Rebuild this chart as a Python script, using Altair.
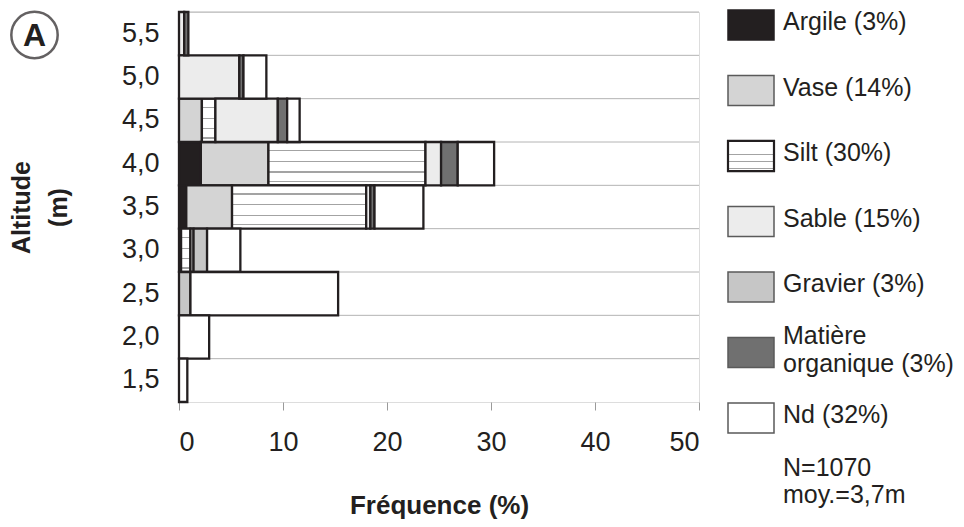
import altair as alt
import pandas as pd

# ---- data ----
altitudes = ["5,5", "5,0", "4,5", "4,0", "3,5", "3,0", "2,5", "2,0", "1,5"]
argile  = [0.0, 0.0, 0.0, 2.1, 0.7, 0.2, 0.0, 0.0, 0.0]
vase    = [0.0, 0.0, 2.2, 6.5, 4.4, 0.0, 0.0, 0.0, 0.0]
silt    = [0.0, 0.0, 1.3, 15.1, 12.9, 0.9, 0.0, 0.0, 0.0]
sable   = [0.5, 5.8, 6.0, 1.5, 0.4, 0.3, 0.0, 0.0, 0.0]
gravier = [0.0, 0.0, 0.0, 0.0, 0.0, 1.3, 1.1, 0.0, 0.0]
matiere = [0.4, 0.4, 0.9, 1.6, 0.4, 0.0, 0.0, 0.0, 0.0]
nd      = [0.0, 2.2, 1.2, 3.5, 4.7, 3.2, 14.2, 2.9, 0.8]

materials = ["Argile", "Vase", "Silt", "Sable", "Gravier", "Matière organique", "Nd"]
legend_labels = ["Argile (3%)", "Vase (14%)", "Silt (30%)", "Sable (15%)",
                 "Gravier (3%)", "Matière\norganique (3%)", "Nd (32%)"]
notes = "N=1070\nmoy.=3,7m"
x_ticks = [0, 10, 20, 30, 40, 50]

series = [argile, vase, silt, sable, gravier, matiere, nd]
rows = []
for i, alt_lbl in enumerate(altitudes):
    for k, m in enumerate(materials):
        v = series[k][i]
        if v > 0:
            rows.append({"altitude": alt_lbl, "material": m, "order": k, "value": v})
df = pd.DataFrame(rows)

INK = "#231f20"
FRAME = "#8a8e92"


def stripes(color="#a3a3a3"):
    stops = [alt.GradientStop(offset=0, color="white")]
    for c in [0.2, 0.45, 0.69, 0.91]:
        stops += [alt.GradientStop(offset=c - 0.015, color="white"),
                  alt.GradientStop(offset=c - 0.015, color=color),
                  alt.GradientStop(offset=c + 0.015, color=color),
                  alt.GradientStop(offset=c + 0.015, color="white")]
    stops.append(alt.GradientStop(offset=1, color="white"))
    return alt.Gradient(gradient="linear", stops=stops, x1=0, y1=0, x2=0, y2=1)


fills = {
    "Argile": INK,
    "Vase": "#d4d4d4",
    "Silt": stripes(),
    "Sable": "#ececec",
    "Gravier": "#c6c6c6",
    "Matière organique": "#707070",
    "Nd": "white",
}

y_scale = alt.Scale(paddingInner=0, paddingOuter=0)
y_enc = alt.Y(
    "altitude:N", sort=altitudes, scale=y_scale,
    axis=alt.Axis(title=["Altitude", "(m)"], titleFontSize=25, titleFontWeight="bold",
                  titleLineHeight=37, titlePadding=50, titleColor=INK,
                  labelFontSize=27, labelColor=INK, labelPadding=20,
                  ticks=False, domain=False, grid=False),
)
x_enc = alt.X(
    "x0:Q", scale=alt.Scale(domain=[0, 50], nice=False),
    axis=alt.Axis(values=x_ticks, title="Fréquence (%)", titleFontSize=26,
                  titleFontWeight="bold", titleColor=INK, titlePadding=37,
                  labelFontSize=27, labelColor=INK, labelPadding=19,
                  tickSize=8, tickColor="#9a9a9a", domain=False, grid=False),
)

# horizontal grid lines at the top edge of each altitude band
grid = alt.Chart(pd.DataFrame({"altitude": altitudes})).mark_rule(
    color="#b4b4b4", strokeWidth=1
).encode(y=alt.Y("altitude:N", sort=altitudes, scale=y_scale, bandPosition=0))

base = alt.Chart(df).transform_stack(
    stack="value", groupby=["altitude"], sort=[alt.SortField("order")], as_=["x0", "x1"]
)

layers = []
for m in materials:
    layers.append(
        base.transform_filter(alt.datum.material == m)
        .mark_bar(fill=fills[m], stroke=INK, strokeWidth=2.3)
        .encode(x=x_enc, x2="x1:Q", y=y_enc)
    )

badge_df = pd.DataFrame({"t": ["A"]})
badge_circle = alt.Chart(badge_df).mark_point(
    shape="circle", size=2150, filled=False, stroke=INK, strokeWidth=2.5
).encode(x=alt.value(-144.5), y=alt.value(23))
badge_text = alt.Chart(badge_df).mark_text(
    fontSize=32, fontWeight="bold", color=INK, baseline="middle", align="center", dy=1
).encode(x=alt.value(-144.5), y=alt.value(23), text="t:N")

main = alt.layer(grid, *layers, badge_circle, badge_text).properties(width=520, height=390)

# ---- legend ----
leg_df = pd.DataFrame({"material": materials, "label": legend_labels, "row": list(range(len(materials)))})
ly = alt.Scale(domain=[0, 6], range=[13, 406])
leg_base = alt.Chart(leg_df).transform_calculate(
    y0="datum.row - 0.23", y1="datum.row + 0.23"
)
leg_layers = []
for m in materials:
    leg_layers.append(
        leg_base.transform_filter(alt.datum.material == m)
        .mark_rect(fill=fills[m], stroke=(INK if m in ("Argile", "Silt") else "#5a5a5a"),
                   strokeWidth=(2.2 if m == "Silt" else 1.5))
        .encode(x=alt.value(0), x2=alt.value(46),
                y=alt.Y("y0:Q", scale=ly, axis=None), y2="y1:Q")
    )
multi = alt.expr.indexof(alt.datum.label, "\n") >= 0
leg_text1 = leg_base.transform_filter(~multi).mark_text(
    align="left", baseline="middle", fontSize=25, color=INK, dy=-3
).encode(x=alt.value(55), y=alt.Y("row:Q", scale=ly, axis=None), text="label:N")
leg_text2 = leg_base.transform_filter(multi).mark_text(
    align="left", baseline="middle", fontSize=25, lineHeight=28, lineBreak="\n",
    color=INK, dy=-17
).encode(x=alt.value(55), y=alt.Y("row:Q", scale=ly, axis=None), text="label:N")

note_df = pd.DataFrame({"t": [notes]})
note_text = alt.Chart(note_df).mark_text(
    align="left", baseline="middle", fontSize=25, lineHeight=27, lineBreak="\n", color=INK
).encode(x=alt.value(55), y=alt.value(456), text="t:N")

legend = alt.layer(*leg_layers, leg_text1, leg_text2, note_text).properties(
    width=170, height=390, view=alt.ViewBackground(stroke="transparent", strokeWidth=0)
)

chart = alt.hconcat(main, legend, spacing=29, bounds="flush").properties(
    padding={"left": -3, "top": -2, "right": 0, "bottom": 0}
).configure_view(
    stroke=FRAME, strokeWidth=2.5
).configure(
    font="Liberation Sans"
)

chart.save("out.html", embed_options={"renderer": "svg", "actions": False})
